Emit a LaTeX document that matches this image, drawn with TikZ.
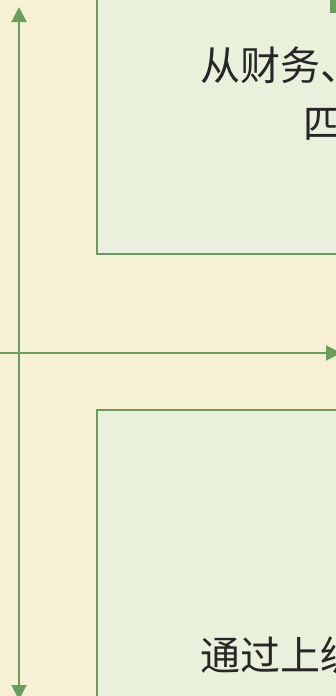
\documentclass[tikz,border=0pt]{standalone}
\usepackage{fontspec}
\newfontfamily\cjk{Noto Sans CJK SC}
\usepackage{xcolor}
\usetikzlibrary{positioning,arrows.meta}

\definecolor{bgcream}{HTML}{F6F1D5}
\definecolor{boxgreen}{HTML}{E9F0DB}
\definecolor{linegreen}{HTML}{6A9E5E}
\definecolor{textdark}{HTML}{262626}

\begin{document}
\begin{tikzpicture}[x=1pt,y=-1pt,>={Triangle[length=15pt,width=15pt]},
		axis/.style={line width=2pt, linegreen},
		panel/.style={fill=boxgreen, draw=linegreen, line width=1.2pt},
		cjktext/.style={font=\cjk\fontsize{40}{48}\selectfont, text=textdark, inner sep=0pt, anchor=base west}]
				\useasboundingbox (0,0) rectangle (336,696);
				\clip (0,0) rectangle (336,696);
				\fill[bgcream] (0,0) rectangle (336,696);
				
				\draw[panel] (97,-10) rectangle (350,254);
				\draw[panel] (97,410) rectangle (350,710);
				\fill[linegreen] (330,-5) rectangle (345,13);
				
				\coordinate (ytop) at (19,7);
				\coordinate (ybot) at (19,700);
				\coordinate (xleft) at (-5,353);
				\coordinate (xright) at (341,353);
				\draw[axis, <->] (ybot) -- (ytop);
				\draw[axis, ->] (xleft) -- (xright);
				
				\node[cjktext] (topline) at (200,80) {从财务、};
				\node[cjktext] (midline) at (303,138) {四};
				\node[cjktext] (botline) at (200,670) {通过上级};
			\end{tikzpicture}
\end{document}
